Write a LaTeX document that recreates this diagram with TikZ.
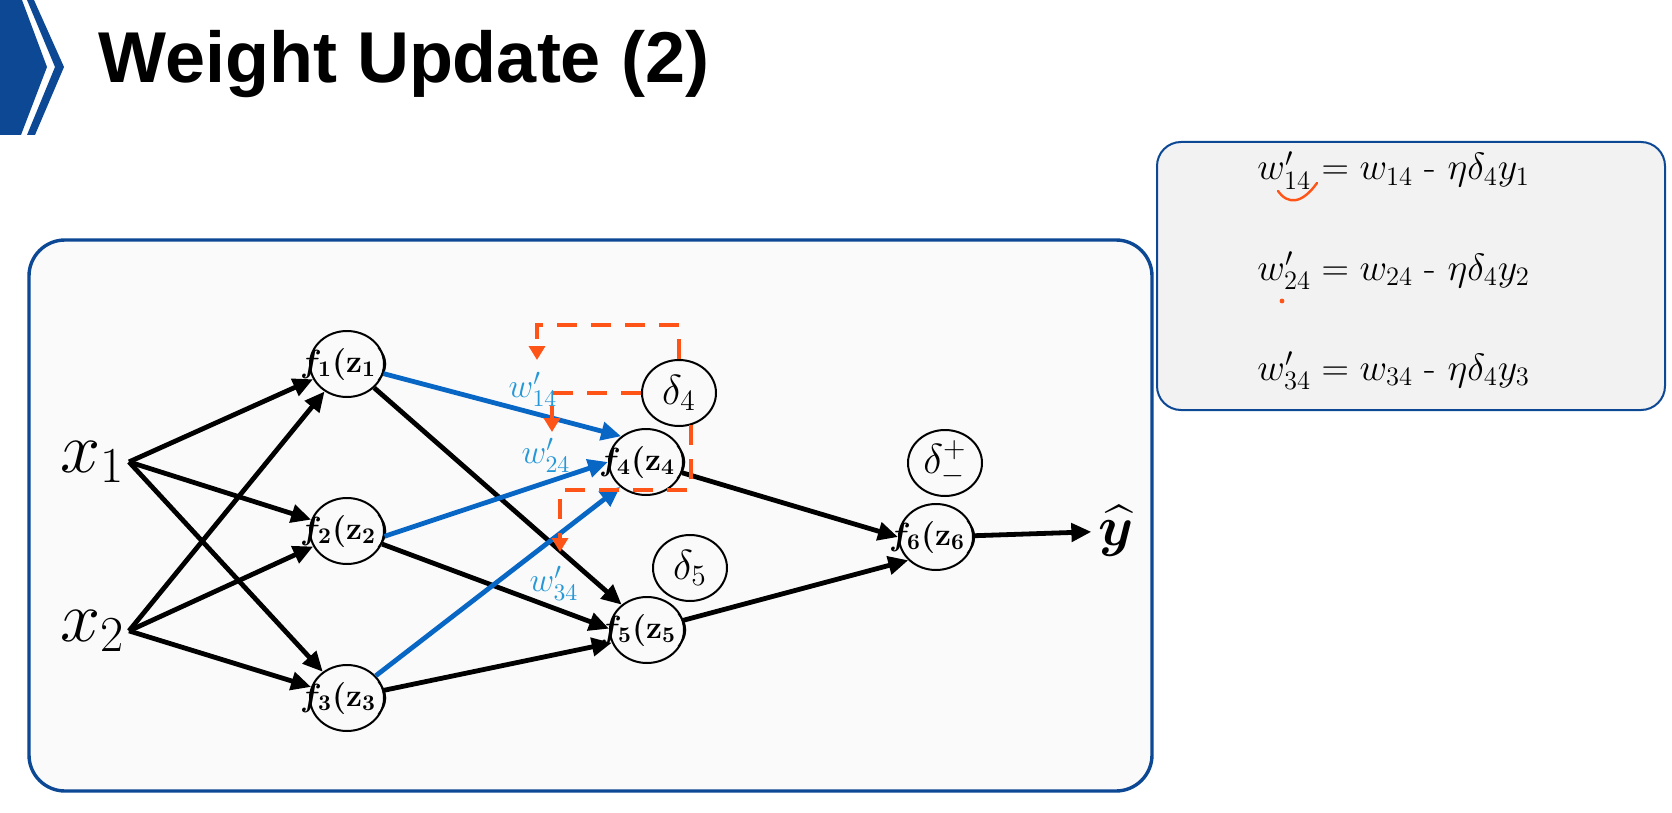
\RequirePackage{fix-cm}
\documentclass[tikz,border=0pt]{standalone}
\usepackage{amsmath}
\usepackage{fontspec}
\newfontfamily\titlefont{Liberation Sans}
\usetikzlibrary{shapes.geometric,arrows.meta}
\definecolor{slideBlue}{RGB}{12,72,148}
\definecolor{netBlue}{RGB}{8,102,196}
\definecolor{wBlue}{RGB}{38,152,216}
\definecolor{deltaOrange}{RGB}{255,84,24}
\definecolor{panelGray}{RGB}{242,242,242}
\definecolor{canvasGray}{RGB}{250,250,250}

\begin{document}
\begin{tikzpicture}[x=0.5pt, y=-0.5pt,
    >={Triangle[width=9pt,length=10pt]},
    neuron/.style={ellipse, draw, line width=1pt, minimum width=37pt, minimum height=33pt, inner sep=0pt,
        label={[font=\fontsize{16}{16}\selectfont\boldmath, inner sep=0pt, xshift=-1pt]center:#1}},
    deltanode/.style={ellipse, draw, line width=1pt, minimum width=37pt, minimum height=33pt, inner sep=0pt,
        label={[font=\fontsize{21}{21}\selectfont, inner sep=0pt]center:#1}},
    synapse/.style={->, line width=2.4pt},
    update/.style={->, line width=2.4pt, netBlue},
    feedback/.style={deltaOrange, line width=2pt, dash pattern=on 10pt off 7pt, -{Triangle[width=8pt,length=7pt]}},
    wlabel/.style={wBlue, font=\fontsize{17}{17}\selectfont, inner sep=0pt},
    inlabel/.style={anchor=base east, inner sep=2pt, font=\fontsize{36}{36}\selectfont},
    eqline/.style={anchor=base west, inner sep=0pt, font=\fontsize{19}{19}\selectfont}]
    \useasboundingbox (0,0) rectangle (1672,813);
    \fill[white] (0,0) rectangle (1672,813);

    \fill[slideBlue] (0,0) -- (22,0) -- (47,67) -- (21,135) -- (0,135) -- cycle;
    \fill[slideBlue] (27,0) -- (34,0) -- (64,67) -- (35,135) -- (27,135) -- (55,67) -- cycle;
    \node[anchor=base west, inner sep=0pt, font=\titlefont\bfseries\fontsize{36}{40}\selectfont] (title) at (98,83) {Weight Update (2)};

    \draw[slideBlue, line width=1.7pt, fill=canvasGray, rounded corners=18pt] (29,240) rectangle (1152,791);
    \draw[slideBlue, line width=1pt, fill=panelGray, rounded corners=12pt] (1157,142) rectangle (1665,410);

    \node[inlabel] (x1) at (129,472) {$x_1$};
    \node[inlabel] (x2) at (129,641) {$x_2$};

    \node[neuron={$f_1(\mathbf{z}_1)$}] (f1) at (347,364) {};
    \node[neuron={$f_2(\mathbf{z}_2)$}] (f2) at (347,531) {};
    \node[neuron={$f_3(\mathbf{z}_3)$}] (f3) at (347,698) {};
    \node[neuron={$f_4(\mathbf{z}_4)$}] (f4) at (646,462) {};
    \node[neuron={$f_5(\mathbf{z}_5)$}] (f5) at (647,630) {};
    \node[neuron={$f_6(\mathbf{z}_6)$}] (f6) at (936,537) {};
    \node[deltanode={$\delta_4$}] (d4) at (679,393) {};
    \node[deltanode={$\delta_5$}] (d5) at (690,568) {};
    \node[deltanode={$\delta^{+}_{-}$}] (d6) at (945,463) {};
    \node[font=\fontsize{28}{28}\selectfont\boldmath] (yhat) at (1116,531) {$\widehat{y}$};

    \draw[synapse] (x1.east) -- (f1);
    \draw[synapse] (x1.east) -- (f2);
    \draw[synapse] (x1.east) -- (f3);
    \draw[synapse] (x2.east) -- (f1);
    \draw[synapse] (x2.east) -- (f2);
    \draw[synapse] (x2.east) -- (f3);
    \draw[synapse] (f1) -- (f5.135);
    \draw[synapse] (f2) -- (f5.178);
    \draw[synapse] (f3) -- (f5.200);
    \draw[update] (f1) -- (f4.134);
    \draw[update] (f2.-8) -- (f4.west);
    \draw[update] (f3) -- (f4.224);
    \draw[synapse] (f4) -- (f6.west);
    \draw[synapse] (f5) -- (f6.220);
    \draw[synapse] (f6) -- (yhat);

    \node[wlabel] (w14) at (533,389) {$w'_{14}$};
    \node[wlabel] (w24) at (546,455) {$w'_{24}$};
    \node[wlabel] (w34) at (554,583) {$w'_{34}$};

    \coordinate (k1) at (537,325);
    \coordinate (t1) at (537,360);
    \coordinate (t2) at (552,432);
    \coordinate (k3) at (560,490);
    \coordinate (t3) at (560,552);
    \draw[feedback] (d4.north) |- (k1) -- (t1);
    \draw[feedback] (d4.west) -| (t2);
    \draw[feedback] (d4.-70) |- (k3) -- (t3);

    \node[eqline] (eq1) at (1257,180) {$w'_{14} = w_{14}$ - $\eta\delta_4 y_1$};
    \node[eqline] (eq2) at (1257,280) {$w'_{24} = w_{24}$ - $\eta\delta_4 y_2$};
    \node[eqline] (eq3) at (1257,380) {$w'_{34} = w_{34}$ - $\eta\delta_4 y_3$};
    \draw[deltaOrange, line width=1.2pt, line cap=round] (1278,191) .. controls (1288,205) and (1302,204) .. (1317,183);
    \fill[deltaOrange] (1282,301) circle (1.2pt);
\end{tikzpicture}
\end{document}
